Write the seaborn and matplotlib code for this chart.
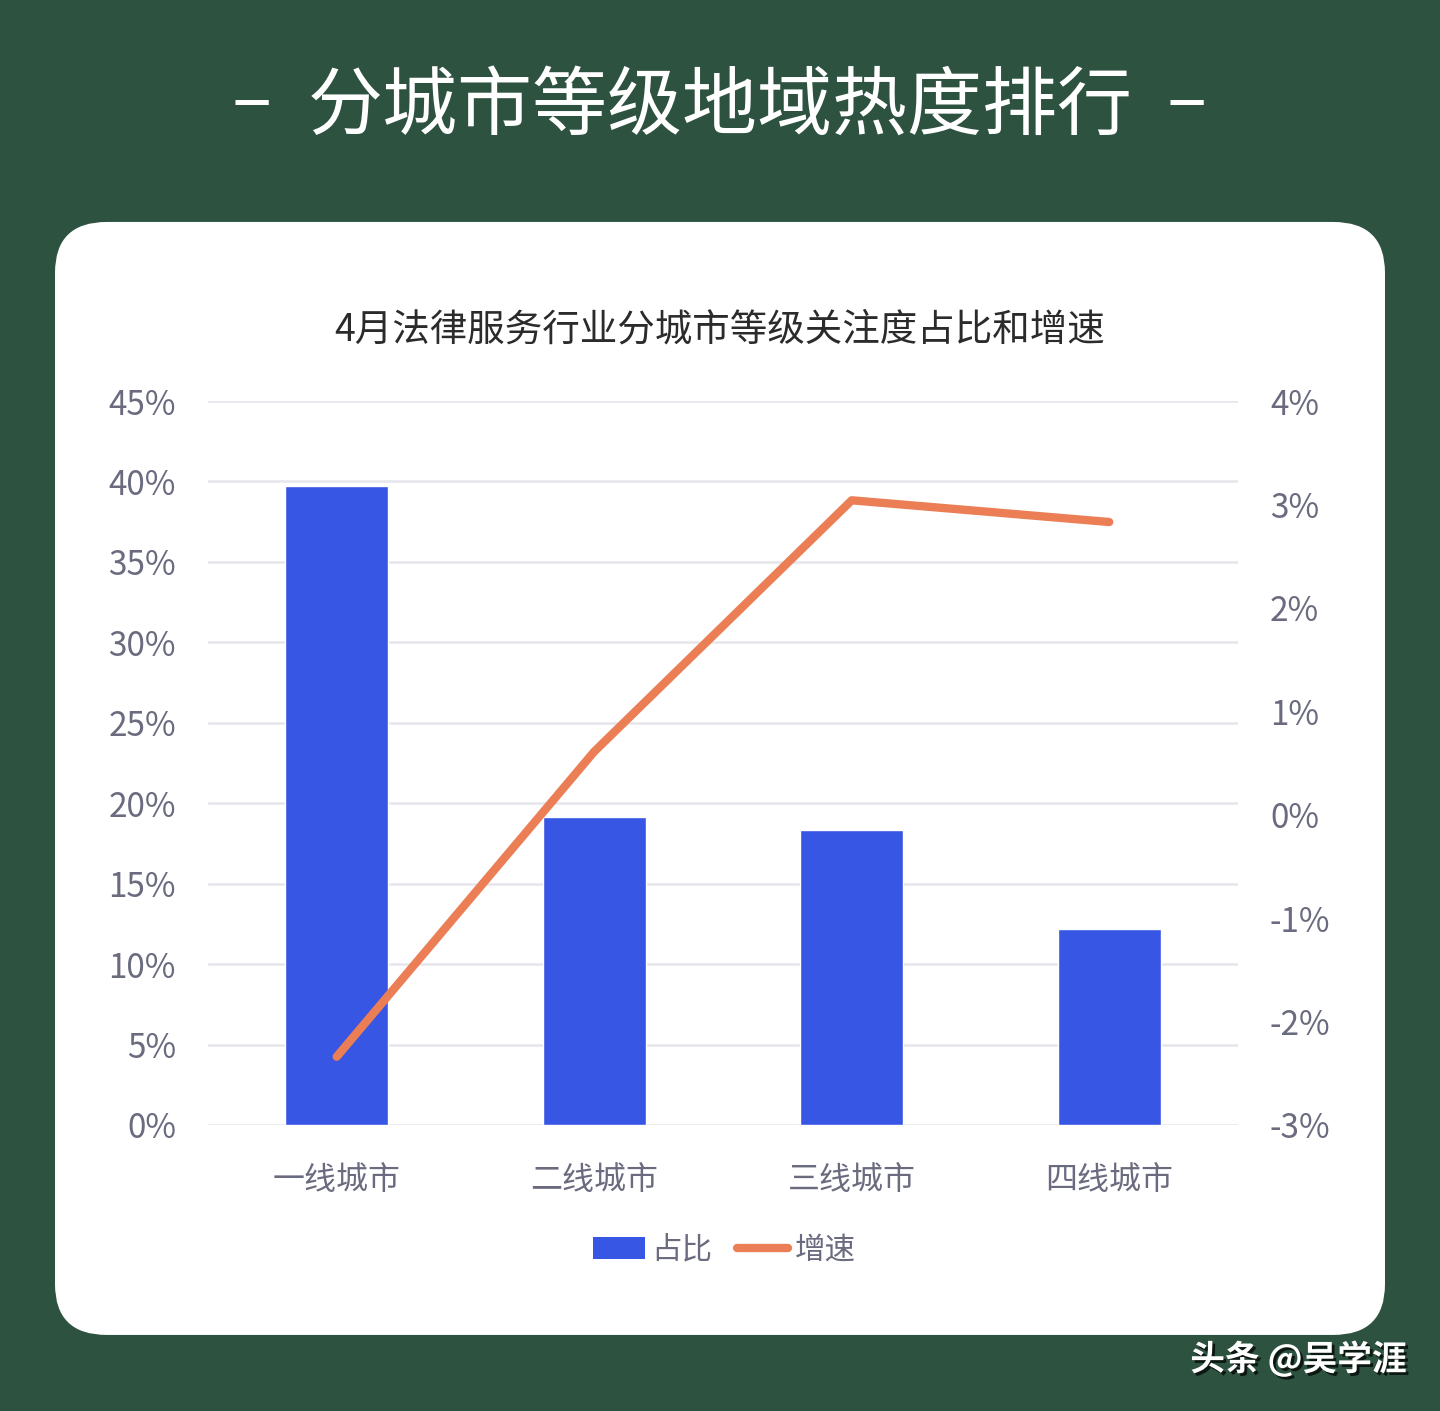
import matplotlib
matplotlib.use("Agg")
import matplotlib.pyplot as plt
import matplotlib.patheffects as pe
from matplotlib.patches import FancyBboxPatch, Patch
from matplotlib.lines import Line2D
from matplotlib.ticker import FuncFormatter, MultipleLocator
import seaborn as sns

# data
cities = ["一线城市", "二线城市", "三线城市", "四线城市"]
share = [39.7, 19.15, 18.35, 12.2]      # 占比, %
growth = [-2.34, 0.61, 3.04, 2.83]      # 增速, %

main_title = "分城市等级地域热度排行"
sub_title = "4月法律服务行业分城市等级关注度占比和增速"

BG = "#2e5240"
BLUE = "#3656e3"
ORANGE = "#eb7e55"
TICK = "#6b6b80"

sns.set_theme(style="white")
plt.rcParams["font.family"] = ["Noto Sans CJK SC", "DejaVu Sans"]

fig = plt.figure(figsize=(14.4, 14.11), dpi=100)
fig.patch.set_facecolor(BG)

# white card behind the chart
card = FancyBboxPatch((0.0382, 0.0539), 0.9236, 0.7888,
                      boxstyle="round,pad=0,rounding_size=0.036",
                      transform=fig.transFigure, facecolor="white",
                      edgecolor="none", zorder=-5)
fig.patches.append(card)

fig.text(0.5, 0.924, main_title, ha="center", va="center", color="white",
         fontsize=54, fontweight="medium")
fig.text(0.175, 0.9277, "–", ha="center", va="center", color="white", fontsize=54)
fig.text(0.824, 0.9277, "–", ha="center", va="center", color="white", fontsize=54)
fig.text(0.5, 0.766, sub_title, ha="center", va="center", color="#2b2b2b",
         fontsize=27, fontweight="medium")

ax = fig.add_axes([0.1444, 0.2027, 0.7153, 0.5131])
ax.set_facecolor("none")
sns.barplot(x=cities, y=share, color=BLUE, width=0.4, saturation=1, ax=ax, zorder=2)
ax.set_ylim(0, 45)
ax.yaxis.set_major_locator(MultipleLocator(5))
ax.yaxis.set_major_formatter(FuncFormatter(lambda v, _: f"{v:.0f}%"))
ax.grid(axis="y", color="#e6e6ec", linewidth=1.8, zorder=0)
ax.set_axisbelow(True)

ax2 = ax.twinx()
sns.lineplot(x=cities, y=growth, color=ORANGE, linewidth=6, sort=False,
             solid_capstyle="round", ax=ax2, zorder=3)
ax2.set_ylim(-3, 4)
ax2.yaxis.set_major_locator(MultipleLocator(1))
ax2.yaxis.set_major_formatter(FuncFormatter(lambda v, _: f"{v:.0f}%"))
ax.set_xlim(-0.5, 3.5)

for a in (ax, ax2):
    for s in a.spines.values():
        s.set_visible(False)
    a.set_xlabel("")
    a.set_ylabel("")
    a.tick_params(length=0, labelsize=24, labelcolor=TICK)
ax.tick_params(axis="y", pad=23)
ax.tick_params(axis="x", pad=28, labelsize=23)
ax2.tick_params(axis="y", pad=23)

handles = [Patch(facecolor=BLUE, edgecolor="none"),
           Line2D([0], [0], color=ORANGE, linewidth=6, solid_capstyle="round")]
fig.legend(handles, ["占比", "增速"], loc="center", bbox_to_anchor=(0.503, 0.114),
           ncol=2, frameon=False, fontsize=22, labelcolor=TICK,
           handlelength=1.7, handleheight=0.7, handletextpad=0.2, columnspacing=0.8)

fig.text(0.977, 0.037, "头条 @吴学涯", ha="right", va="center", color="white",
         fontsize=25, fontweight="bold",
         path_effects=[pe.withSimplePatchShadow(offset=(2, -2), shadow_rgbFace="black", alpha=0.7)])

fig.savefig("out.png", dpi=100, facecolor=BG)
